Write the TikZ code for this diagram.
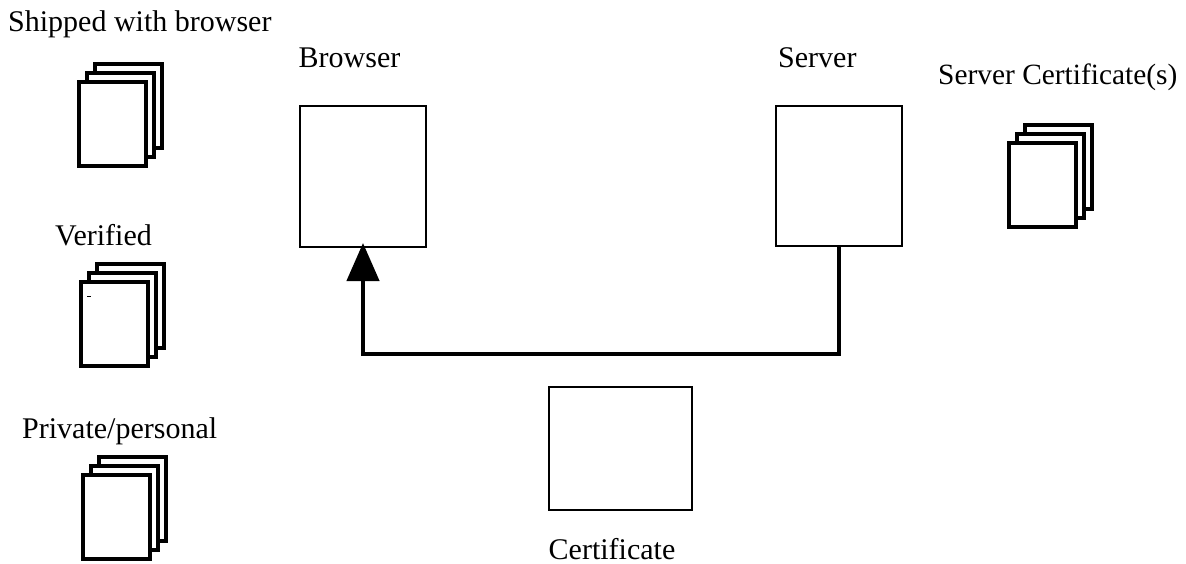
\documentclass[tikz,border=0pt]{standalone}
\usepackage{fontspec}
\setmainfont{Liberation Serif}
\usetikzlibrary{arrows.meta}
\tikzset{
  sheet/.style={draw=black,fill=white,line width=3.8pt,minimum width=67pt,minimum height=84pt,inner sep=0pt,outer sep=0pt,anchor=north west},
  hostbox/.style={draw=black,fill=white,line width=1.8pt,inner sep=0pt,outer sep=0pt,anchor=north west},
  lbl/.style={font=\fontsize{30}{33}\selectfont,inner sep=0pt,anchor=base west},
  flow/.style={line width=4.4pt,-{Triangle[length=38pt,width=32pt]},shorten >=-4pt}
}
\newcommand{\sheetstack}[3]{%
  \node[sheet] (#1back) at (#2+16,#3-18) {};
  \node[sheet] (#1mid) at (#2+8,#3-9) {};
  \node[sheet] (#1front) at (#2,#3) {};
}
\begin{document}
\begin{tikzpicture}[x=1pt,y=-1pt]
\useasboundingbox (0,0) rectangle (1186,564);
\sheetstack{a}{79}{82}
\sheetstack{b}{81}{282}
\sheetstack{c}{83}{475}
\sheetstack{d}{1009}{143}
\fill (87,295.6) rectangle (91,296.8);
\node[hostbox,minimum width=126pt,minimum height=141pt] (browser) at (300,106) {};
\node[hostbox,minimum width=126pt,minimum height=140pt] (server) at (776,106) {};
\node[hostbox,minimum width=143pt,minimum height=123pt] (cert) at (549,387) {};
\coordinate (elbow) at (600,354);
\draw[flow] (server.south) -- (server.south |- elbow) -- (browser.south |- elbow) -- (browser.south);
\node[lbl] (t1) at (8,32) {Shipped with browser};
\node[lbl] (t2) at (55,245) {Verified};
\node[lbl] (t3) at (22,438) {Private/personal};
\node[lbl] (t4) at (298.5,68) {Browser};
\node[lbl] (t5) at (778,68) {Server};
\node[lbl,font=\fontsize{29.4}{33}\selectfont] (t6) at (938,85) {Server Certificate(s)};
\node[lbl] (t7) at (548.5,559) {Certificate};
\end{tikzpicture}
\end{document}
